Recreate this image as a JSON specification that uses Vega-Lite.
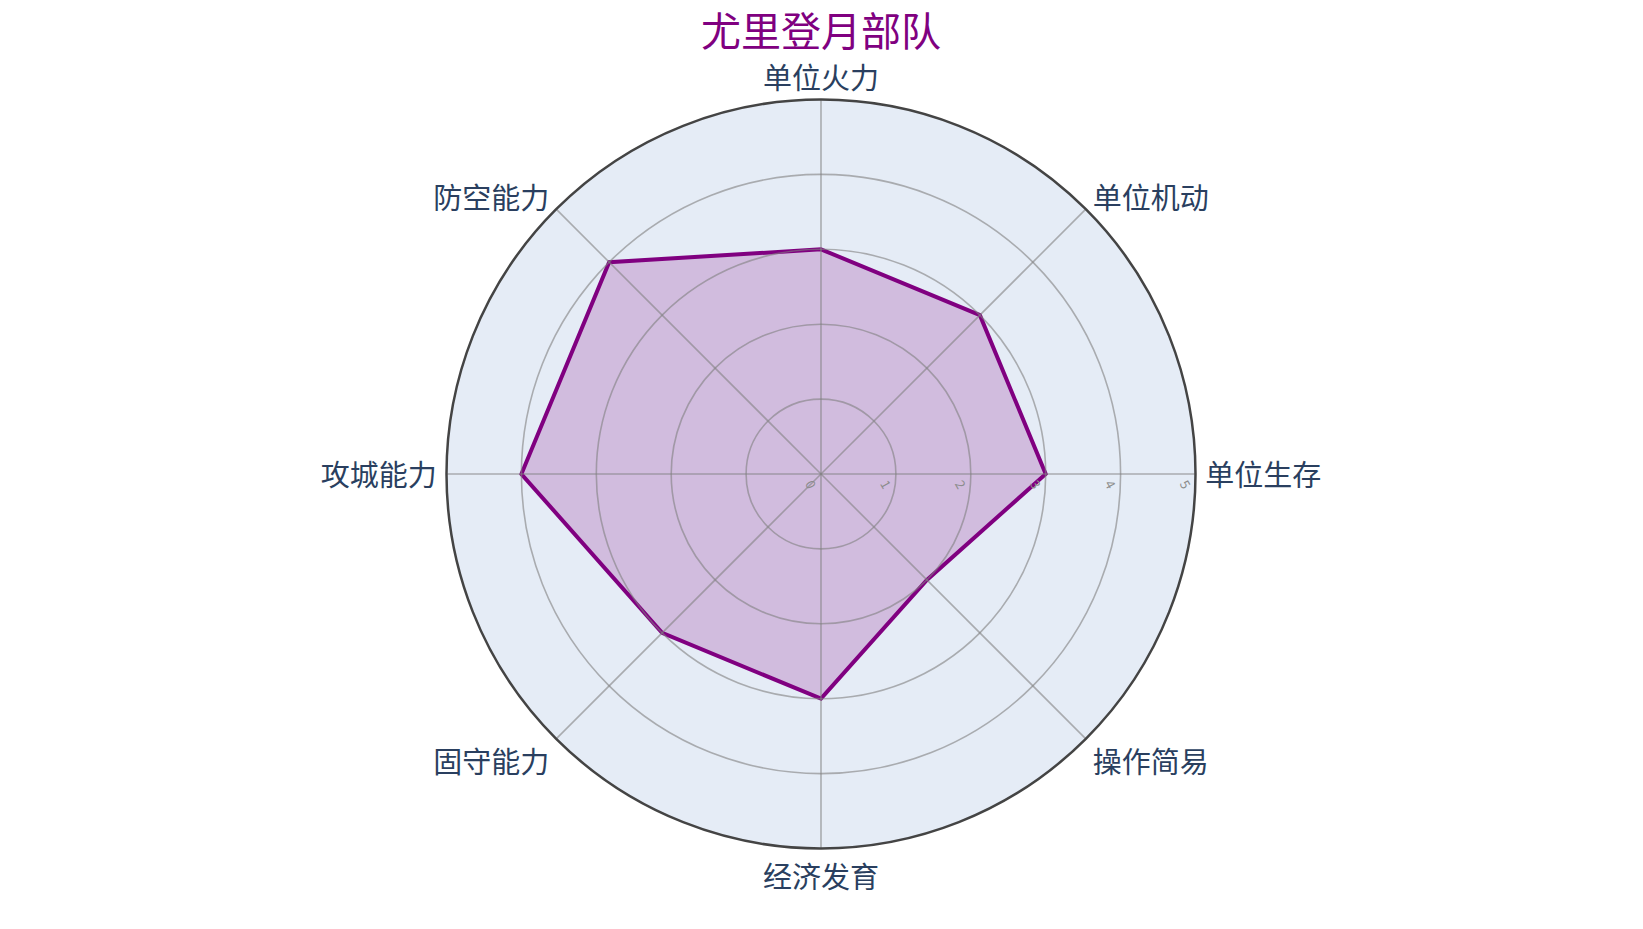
{
  "$schema": "https://vega.github.io/schema/vega-lite/v6.json",
  "width": 749,
  "height": 749,
  "autosize": "none",
  "padding": {"left": 446.5, "top": 99.5, "right": 447.5, "bottom": 80.5},
  "background": "white",
  "title": {
    "text": "尤里登月部队",
    "color": "#800080",
    "fontSize": 40,
    "font": "Noto Sans CJK SC",
    "fontWeight": "normal",
    "anchor": "middle",
    "frame": "group",
    "baseline": "alphabetic",
    "offset": -20
  },
  "config": {"view": {"stroke": null}, "font": "Noto Sans CJK SC"},
  "datasets": {
    "axes": [
      {"axis": "单位火力", "order": 0, "value": 3},
      {"axis": "单位机动", "order": 1, "value": 3},
      {"axis": "单位生存", "order": 2, "value": 3},
      {"axis": "操作简易", "order": 3, "value": 2},
      {"axis": "经济发育", "order": 4, "value": 3},
      {"axis": "固守能力", "order": 5, "value": 3},
      {"axis": "攻城能力", "order": 6, "value": 4},
      {"axis": "防空能力", "order": 7, "value": 4}
    ],
    "rings": [
      {"r": 0}, {"r": 1}, {"r": 2}, {"r": 3}, {"r": 4}, {"r": 5}
    ]
  },
  "layer": [
    {
      "data": {"name": "rings"},
      "transform": [{"filter": "datum.r == 5"}],
      "mark": {"type": "arc", "theta": 0, "theta2": 6.2832, "fill": "#e5ecf6"},
      "encoding": {
        "radius": {"field": "r", "type": "quantitative", "stack": null, "scale": {"type": "linear", "domain": [0, 5], "zero": true, "range": [0, 374.5]}}
      }
    },
    {
      "data": {"name": "axes"},
      "transform": [
        {"calculate": "datum.order * PI / 4", "as": "a"},
        {"calculate": "datum.value * sin(datum.a)", "as": "px"},
        {"calculate": "datum.value * cos(datum.a)", "as": "py"}
      ],
      "mark": {"type": "line", "interpolate": "linear-closed", "stroke": "#800080", "strokeWidth": 4, "fill": "#800080", "fillOpacity": 0.2},
      "encoding": {
        "x": {"field": "px", "type": "quantitative", "scale": {"domain": [-5, 5], "nice": false, "zero": false}, "axis": null},
        "y": {"field": "py", "type": "quantitative", "scale": {"domain": [-5, 5], "nice": false, "zero": false}, "axis": null},
        "order": {"field": "order", "type": "quantitative"}
      }
    },
    {
      "data": {"name": "rings"},
      "transform": [{"filter": "datum.r >= 1 && datum.r <= 4"}],
      "mark": {"type": "arc", "theta": 0, "theta2": 6.2832, "filled": false, "stroke": "#808080", "strokeOpacity": 0.6, "strokeWidth": 1.6},
      "encoding": {
        "radius": {"field": "r", "type": "quantitative", "stack": null, "scale": {"type": "linear", "domain": [0, 5], "zero": true, "range": [0, 374.5]}}
      }
    },
    {
      "data": {"name": "axes"},
      "transform": [
        {"calculate": "datum.order * PI / 4", "as": "a"},
        {"calculate": "5 * sin(datum.a)", "as": "sx"},
        {"calculate": "5 * cos(datum.a)", "as": "sy"}
      ],
      "mark": {"type": "rule", "stroke": "#808080", "strokeOpacity": 0.6, "strokeWidth": 1.6},
      "encoding": {
        "x": {"field": "sx", "type": "quantitative", "scale": {"domain": [-5, 5], "nice": false, "zero": false}, "axis": null},
        "y": {"field": "sy", "type": "quantitative", "scale": {"domain": [-5, 5], "nice": false, "zero": false}, "axis": null},
        "x2": {"datum": 0},
        "y2": {"datum": 0}
      }
    },
    {
      "data": {"name": "rings"},
      "transform": [{"filter": "datum.r == 5"}],
      "mark": {"type": "arc", "theta": 0, "theta2": 6.2832, "filled": false, "stroke": "#444444", "strokeWidth": 2.5},
      "encoding": {
        "radius": {"field": "r", "type": "quantitative", "stack": null, "scale": {"type": "linear", "domain": [0, 5], "zero": true, "range": [0, 374.5]}}
      }
    },
    {
      "data": {"name": "rings"},
      "mark": {"type": "text", "angle": 60, "dx": 4, "dy": 15, "fontSize": 13, "fill": "#8c8c8c", "align": "center", "baseline": "middle"},
      "encoding": {
        "x": {"field": "r", "type": "quantitative", "scale": {"domain": [-5, 5], "nice": false, "zero": false}, "axis": null},
        "y": {"datum": 0, "type": "quantitative", "scale": {"domain": [-5, 5], "nice": false, "zero": false}, "axis": null},
        "text": {"field": "r", "type": "quantitative"}
      }
    },
    {
      "data": {"name": "axes"},
      "transform": [
        {"calculate": "datum.order * PI / 4", "as": "a"},
        {"calculate": "5.13 * sin(datum.a)", "as": "lx"},
        {"calculate": "5.13 * cos(datum.a) + (cos(datum.a) > 0.9 ? 0.167 : cos(datum.a) > 0.1 ? 0.067 : cos(datum.a) < -0.9 ? -0.24 : cos(datum.a) < -0.1 ? -0.21 : 0)", "as": "ly"},
        {"calculate": "sin(datum.a) > 0.1 ? 'left' : sin(datum.a) < -0.1 ? 'right' : 'center'", "as": "side"}
      ],
      "layer": [
        {
          "transform": [{"filter": "datum.side == 'left'"}],
          "mark": {"type": "text", "align": "left", "baseline": "middle", "dy": 3, "fontSize": 29, "fill": "#2a3f5f"},
          "encoding": {
            "x": {"field": "lx", "type": "quantitative", "scale": {"domain": [-5, 5], "nice": false, "zero": false}, "axis": null},
            "y": {"field": "ly", "type": "quantitative", "scale": {"domain": [-5, 5], "nice": false, "zero": false}, "axis": null},
            "text": {"field": "axis", "type": "nominal"}
          }
        },
        {
          "transform": [{"filter": "datum.side == 'right'"}],
          "mark": {"type": "text", "align": "right", "baseline": "middle", "dy": 3, "fontSize": 29, "fill": "#2a3f5f"},
          "encoding": {
            "x": {"field": "lx", "type": "quantitative", "scale": {"domain": [-5, 5], "nice": false, "zero": false}, "axis": null},
            "y": {"field": "ly", "type": "quantitative", "scale": {"domain": [-5, 5], "nice": false, "zero": false}, "axis": null},
            "text": {"field": "axis", "type": "nominal"}
          }
        },
        {
          "transform": [{"filter": "datum.side == 'center'"}],
          "mark": {"type": "text", "align": "center", "baseline": "middle", "dy": 3, "fontSize": 29, "fill": "#2a3f5f"},
          "encoding": {
            "x": {"field": "lx", "type": "quantitative", "scale": {"domain": [-5, 5], "nice": false, "zero": false}, "axis": null},
            "y": {"field": "ly", "type": "quantitative", "scale": {"domain": [-5, 5], "nice": false, "zero": false}, "axis": null},
            "text": {"field": "axis", "type": "nominal"}
          }
        }
      ]
    }
  ]
}
